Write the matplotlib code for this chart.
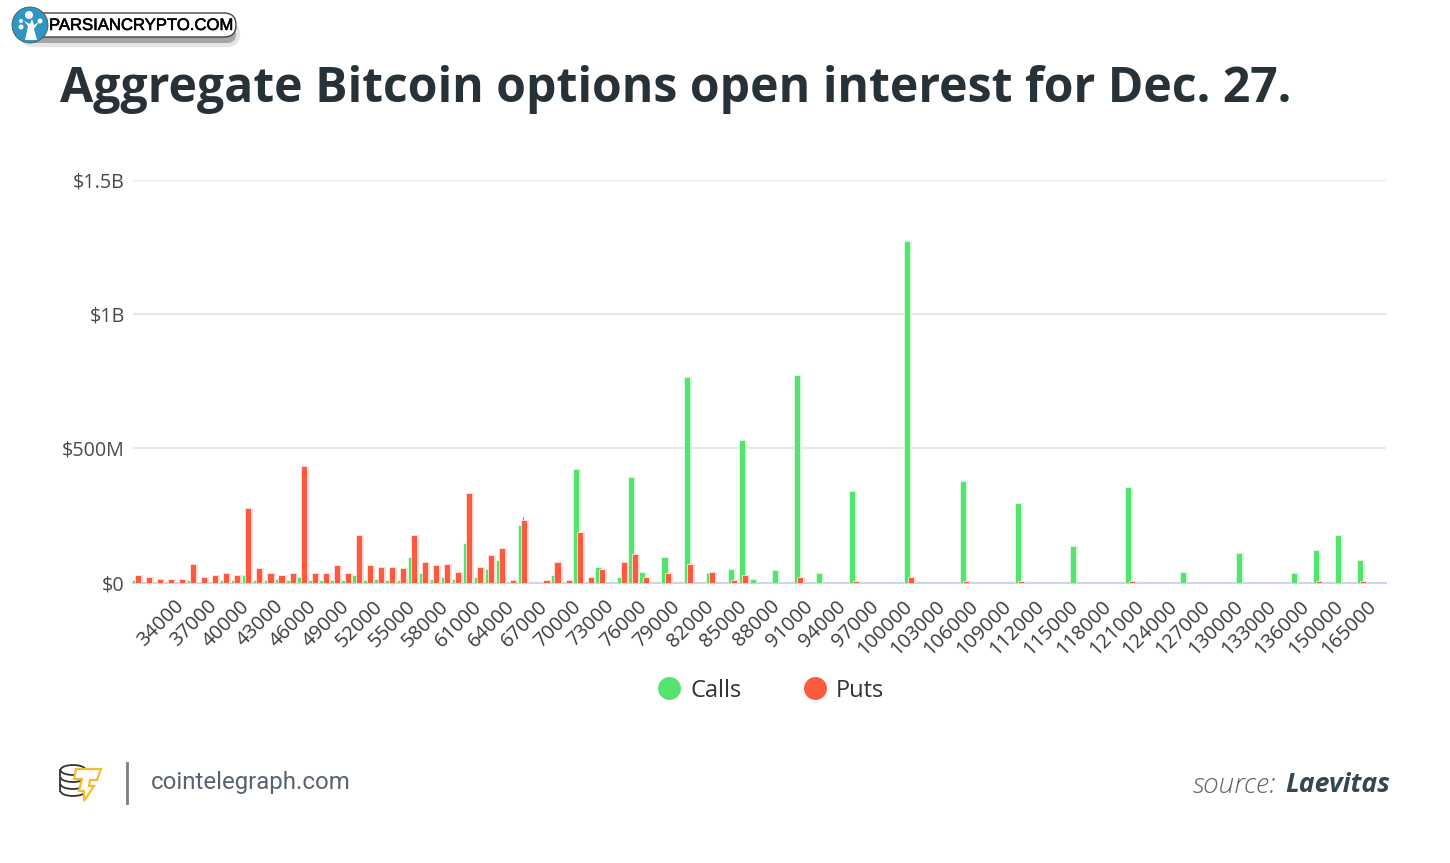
import matplotlib
matplotlib.use('Agg')
import matplotlib.pyplot as plt
import matplotlib.patheffects as pe
from matplotlib.patches import Circle, Ellipse, FancyBboxPatch, Polygon, Arc
from matplotlib.lines import Line2D
from matplotlib.transforms import ScaledTranslation

plt.rcParams['font.family'] = ['Open Sans', 'DejaVu Sans']

# strikes: 1000 steps up to 136000, then wider
strikes = list(range(30000, 137000, 1000)) + [140000, 145000, 150000, 155000, 160000, 165000]

# values in $M
calls = [6, 0, 0, 0, 0, 4, 0, 0, 4, 4, 24, 4, 4, 11, 4, 18, 4, 4, 4, 4, 24, 4, 11, 4, 4, 93, 30, 11, 17, 11,
         142, 17, 48, 81, 0, 211, 0, 0, 24, 0, 421, 0, 55, 0, 17, 390, 36, 0, 93, 0, 763, 0, 30, 0, 48, 527, 11, 0, 44, 0,
         770, 0, 30, 0, 0, 336, 0, 0, 0, 0, 1270, 0, 0, 0, 0, 373, 0, 0, 0, 0, 293, 0, 0, 0, 0, 132, 0, 0, 0, 0,
         352, 0, 0, 0, 0, 35, 0, 0, 0, 0, 106, 0, 0, 0, 0, 32, 0, 117, 0, 173, 0, 80, 0]
puts = [24, 17, 11, 11, 11, 67, 17, 24, 30, 24, 273, 50, 30, 24, 30, 429, 30, 30, 61, 30, 173, 61, 55, 55, 50, 173, 73, 61, 67, 36,
        329, 55, 98, 124, 4, 231, 0, 4, 73, 4, 185, 17, 48, 0, 73, 104, 17, 0, 30, 0, 67, 0, 36, 0, 4, 24, 0, 0, 0, 0,
        17, 0, 0, 0, 0, 3, 0, 0, 0, 0, 17, 0, 0, 0, 0, 3, 0, 0, 0, 0, 3, 0, 0, 0, 0, 0, 0, 0, 0, 0,
        3, 0, 0, 0, 0, 0, 0, 0, 0, 0, 0, 0, 0, 0, 0, 0, 0, 2, 0, 0, 0, 2, 0]
other = [0] * 113
other[35] = 245  # thin blue sliver behind the 65000 bars

y_ticks = [0, 500, 1000, 1500]
y_labels = ['$0', '$500M', '$1B', '$1.5B']

GREEN = '#54e36f'
RED = '#fd5b40'
DARK = '#263238'
W, H = 1450, 863

fig = plt.figure(figsize=(W / 100, H / 100), dpi=100, facecolor='white')
ax = fig.add_axes([133 / W, 1 - 582.5 / H, (1386 - 133) / W, (582.5 - 180) / H])

x = list(range(len(strikes)))
halo_g = [pe.withStroke(linewidth=2, foreground='#d5f8db')]
halo_r = [pe.withStroke(linewidth=2, foreground='#ffd9d2')]
ax.bar([i - 0.12 for i in x], other, width=0.15, color='#5b9bd5', zorder=2)
b1 = ax.bar([i - 0.31 for i in x], calls, width=0.46, color=GREEN, zorder=3)
b2 = ax.bar(x, puts, width=0.46, color=RED, zorder=4)
for bars, halo in ((b1, halo_g), (b2, halo_r)):
    for r in bars:
        if r.get_height() > 0:
            r.set_path_effects(halo)

ax.set_xlim(-0.5, 113)
ax.set_ylim(0, 1500)
ax.set_yticks(y_ticks)
ax.set_yticklabels(y_labels, fontsize=14.2, color='#4a4a4a')
ax.tick_params(axis='y', length=0, pad=6)
ax.tick_params(axis='x', length=0, pad=10)
ax.set_xticks(x[4::3])
ax.set_xticklabels([str(s) for s in strikes[4::3]], rotation=45, ha='right', va='top',
                   rotation_mode='anchor', fontsize=14.4, color='#3c3c3c')
shift = ScaledTranslation(-9 / 100, 0, fig.dpi_scale_trans)
for lab in ax.get_xticklabels():
    lab.set_transform(lab.get_transform() + shift)
ax.grid(axis='y', color='#e8e8e8', lw=1.6, zorder=0)
ax.set_axisbelow(True)
for s in ['top', 'right', 'left']:
    ax.spines[s].set_visible(False)
ax.spines['bottom'].set_color('#ccd6eb')
ax.spines['bottom'].set_linewidth(1.5)

handles = [Line2D([], [], ls='', marker='o', ms=15.5, color=GREEN),
           Line2D([], [], ls='', marker='o', ms=15.5, color=RED)]
fig.legend(handles, ['Calls', 'Puts'], loc='center', bbox_to_anchor=(765 / W, 1 - 690.5 / H), ncol=2, frameon=False,
           fontsize=17, labelcolor='#333333', columnspacing=2.09, handletextpad=-0.1)

# overlay in pixel coords for title, footer and logos
ov = fig.add_axes([0, 0, 1, 1], zorder=10)
ov.set_xlim(0, W)
ov.set_ylim(H, 0)
ov.axis('off')

ov.text(60, 89, 'Aggregate Bitcoin options open interest for Dec. 27.', fontsize=34.7, fontweight='bold',
        color=DARK, va='center', ha='left')

# watermark top left
shadow = FancyBboxPatch((24, 26), 212, 17, boxstyle='round,pad=0,rounding_size=9', fc='#8a8a8a', ec='none', alpha=0.55)
shadow.set_path_effects([pe.withStroke(linewidth=6, foreground='#cfcfcf', alpha=0.5)])
ov.add_patch(shadow)
ov.add_patch(FancyBboxPatch((30, 13), 206, 24, boxstyle='round,pad=0,rounding_size=12', fc='white', ec='#444444', lw=1))
ov.add_patch(Circle((30, 25), 18, fc='#2f95c4', ec='#555555', lw=0.6))
ov.add_patch(Polygon([(25, 40), (28, 26), (24, 21), (30, 24), (32, 19), (34, 25), (39, 22), (34, 29), (37, 40)], fc='white', ec='none'))
for cx, cy, r in [(29, 15, 4), (40, 21, 2.5), (21, 21, 2), (21, 27, 2.5)]:
    ov.add_patch(Circle((cx, cy), r, fc='white', ec='none'))
ov.text(49, 25.5, 'PARSIANCRYPTO.COM', fontsize=12, color='black', family=['Liberation Sans'], va='center', ha='left',
        path_effects=[pe.withStroke(linewidth=0.4, foreground='black')])

# cointelegraph logo
ov.add_patch(Ellipse((73, 770), 25, 10, fc='none', ec='#333333', lw=1.3))
for cy in [777, 784, 791]:
    ov.add_patch(Arc((73, cy), 25, 10, theta1=0, theta2=180, ec='#333333', lw=1.3))
ov.plot([60.5, 60.5], [770, 791], color='#333333', lw=1.3)
ov.add_patch(Polygon([(76, 769), (101, 769), (97, 780), (90, 780), (89, 786), (94, 786), (84, 801), (84, 791), (79, 791), (82, 779), (74, 779)],
                     fc='white', ec='#f7bc2e', lw=1.6, joinstyle='miter'))
ov.plot([127, 127], [763, 803], color='#7b8085', lw=2)
ov.text(151, 782, 'cointelegraph.com', fontsize=17.3, family=['Roboto'], color='#58636d', va='center', ha='left')

ov.text(1193, 785, 'source:', fontsize=20.2, style='italic', color='#5e666d', family=['Open Sans'], fontweight='light', va='center', ha='left')
ov.text(1390, 785, 'Laevitas', fontsize=19.2, style='italic', fontweight='bold', color='#37474f', family=['Open Sans'], va='center', ha='right')

fig.savefig('out.png', dpi=100)
